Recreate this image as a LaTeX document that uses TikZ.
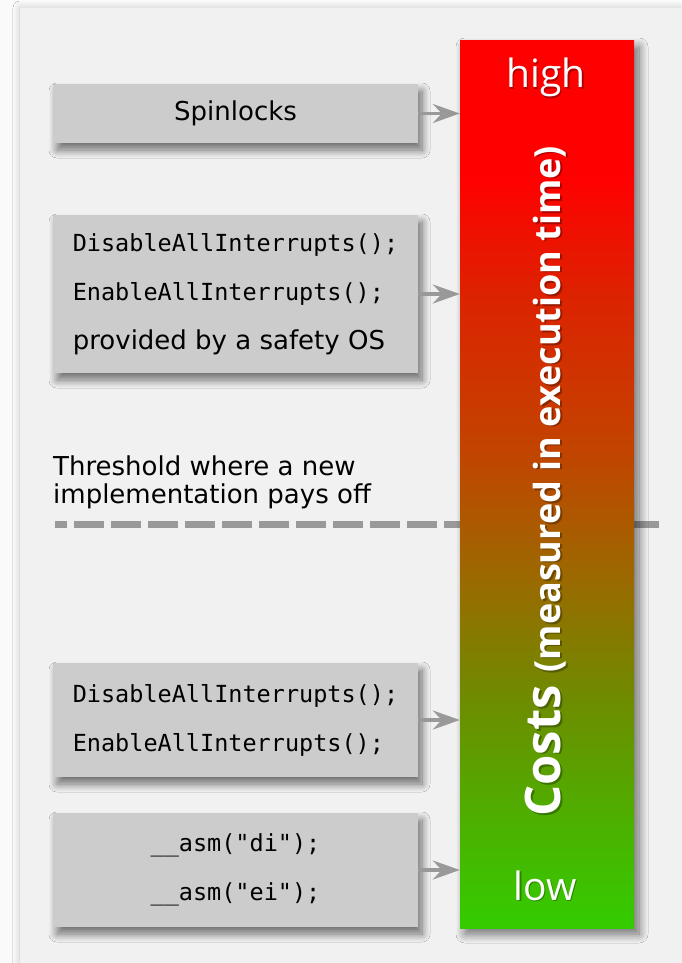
\documentclass[tikz,border=0pt]{standalone}
\usepackage{fontspec}
\setmainfont{DejaVu Sans}
\setmonofont{DejaVu Sans Mono}
\newfontfamily\osans{Open Sans}
\usetikzlibrary{arrows.meta,shadows.blur}
\definecolor{bgc}{HTML}{FAFAFA}
\definecolor{panelc}{HTML}{F1F1F1}
\definecolor{boxc}{HTML}{CCCCCC}
\definecolor{arrc}{HTML}{999999}
\definecolor{cA}{HTML}{FF0000}
\definecolor{cB}{HTML}{DD2200}
\definecolor{cC}{HTML}{C24400}
\definecolor{cD}{HTML}{9A6A00}
\definecolor{cE}{HTML}{6E8C00}
\definecolor{cF}{HTML}{52AA00}
\definecolor{cG}{HTML}{33CC00}
\begin{document}
\begin{tikzpicture}[x=1pt,y=-1pt,
  boxstyle/.style={fill=boxc, draw=none, minimum width=365pt, inner sep=0pt,
    blur shadow={shadow xshift=4pt, shadow yshift=-7pt, shadow blur radius=8pt, shadow opacity=55, shadow blur steps=12}},
  codetext/.style={font=\ttfamily\fontsize{23.5}{49}\selectfont},
  arr/.style={draw=arrc, line width=3.5pt, -{Stealth[length=27pt,width=19pt,inset=9pt]}},
  dashline/.style={draw=arrc, line width=6.5pt, dash pattern=on 30pt off 7pt, dash phase=18pt},
  endlabel/.style={font=\osans\fontsize{39}{39}\selectfont, text=white, anchor=base, inner sep=0pt},
  titlestyle/.style={rotate=90, anchor=base west, inner sep=0pt, font=\osans\bfseries}
]
\useasboundingbox (0,0) rectangle (681,963);
\fill[bgc] (0,0) rectangle (681,963);
\fill[panelc, blur shadow={shadow xshift=0pt, shadow yshift=0pt, shadow blur radius=7pt, shadow opacity=20, shadow blur steps=8}] (20,8) rectangle (720,1000);

% threshold
\node[anchor=base west, align=left, inner sep=0pt, font=\fontsize{26}{28}\selectfont] (thr) at (53,503) {Threshold where a new\\implementation pays off};
\coordinate (dashL) at (55,524.5);
\coordinate (dashR) at (665,524.5);
\draw[dashline] (dashL) -- (dashR);

% cost bar
\node[fill=cA, draw=none, minimum width=174pt, minimum height=887pt, inner sep=0pt,
  blur shadow={shadow xshift=5pt, shadow yshift=-6pt, shadow blur radius=9pt, shadow opacity=55, shadow blur steps=12}] (bar) at (547,484.5) {};
\shade[top color=cA, bottom color=cA] (460,41) rectangle (634,175.5);
\shade[top color=cA, bottom color=cB] (460,175) rectangle (634,294.5);
\shade[top color=cB, bottom color=cC] (460,294) rectangle (634,450.5);
\shade[top color=cC, bottom color=cD] (460,450) rectangle (634,580.5);
\shade[top color=cD, bottom color=cE] (460,580) rectangle (634,700.5);
\shade[top color=cE, bottom color=cF] (460,700) rectangle (634,800.5);
\shade[top color=cF, bottom color=cG] (460,800) rectangle (634,928);

\node[endlabel, text=black, opacity=.3] (highsh) at (547.5,89.5) {high};
\node[endlabel] (high) at (546,88) {high};
\node[endlabel, text=black, opacity=.3] (lowsh) at (546.5,901.5) {low};
\node[endlabel] (low) at (545,900) {low};

\node[titlestyle, text=black, opacity=.3] (titlesh) at (562,818.5) {\fontsize{49}{49}\selectfont Costs \fontsize{36}{36}\selectfont(measured in execution time)};
\node[titlestyle, text=white] (title) at (560,817) {\fontsize{49}{49}\selectfont Costs \fontsize{36}{36}\selectfont(measured in execution time)};

% boxes
\node[boxstyle, minimum height=59pt, font=\fontsize{26}{30}\selectfont] (b1) at (235.5,113.5) {Spinlocks};
\node[boxstyle, minimum height=158pt, align=left, codetext] (b2) at (235.5,294) {DisableAllInterrupts();\\EnableAllInterrupts();\\\rmfamily\fontsize{26}{49}\selectfont provided by a safety OS};
\node[boxstyle, minimum height=114pt, align=left, codetext] (b3) at (235.5,720) {DisableAllInterrupts();\\EnableAllInterrupts();};
\node[boxstyle, minimum height=114pt, align=center, codetext] (b4) at (235.5,870) {\_\_asm("di");\\\_\_asm("ei");};

% arrows
\draw[arr] (b1.east) -- (bar.west |- b1.east);
\draw[arr] (b2.east) -- (bar.west |- b2.east);
\draw[arr] (b3.east) -- (bar.west |- b3.east);
\draw[arr] (b4.east) -- (bar.west |- b4.east);
\end{tikzpicture}
\end{document}
